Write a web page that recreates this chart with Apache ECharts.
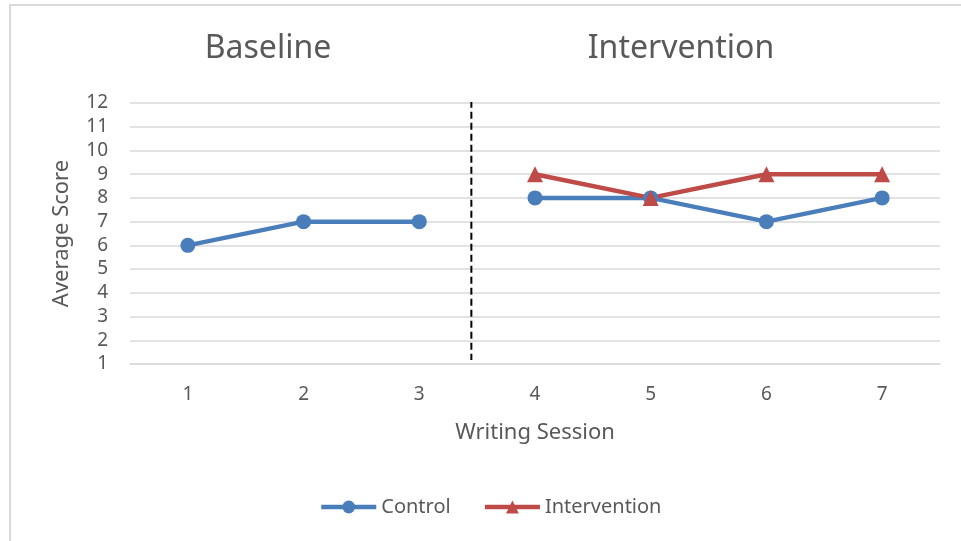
<!DOCTYPE html>
<html>
<head>
<meta charset="utf-8">
<script src="https://cdn.jsdelivr.net/npm/echarts@6/dist/echarts.min.js"></script>
<style>
html,body{margin:0;padding:0;background:#fff;}
#wrap{position:relative;width:961px;height:541px;overflow:hidden;}
#frame{position:absolute;left:9px;top:4px;width:1000px;height:600px;border-left:2px solid #d9d9d9;border-top:2px solid #d9d9d9;}
#chart{position:absolute;left:0;top:0;width:961px;height:541px;}
</style>
</head>
<body>
<div id="wrap"><div id="frame"></div><div id="chart"></div></div>
<script>
var sessions = ['1','2','3','4','5','6','7'];
var controlBaseline = [6, 7, 7, '-', '-', '-', '-'];
var controlIntervention = ['-', '-', '-', 8, 8, 7, 8];
var intervention = ['-', '-', '-', 9, 8, 9, 9];
var phaseDivider = [[3.45, 12.1], [3.45, 1.17]];
var phaseTitles = ['Baseline', 'Intervention'];

var blue = '#4A7EBB', red = '#BE4B48', txt = '#595959';
var font = 'Noto Sans';
var chart = echarts.init(document.getElementById('chart'), null, {renderer: 'canvas'});
chart.setOption({
  animation: false,
  textStyle: {fontFamily: font, color: txt},
  title: [
    {text: phaseTitles[0], left: 263, top: 28, textAlign: 'center', textStyle: {fontFamily: font, fontSize: 32, fontWeight: 'normal', color: txt}},
    {text: phaseTitles[1], left: 676, top: 28, textAlign: 'center', textStyle: {fontFamily: font, fontSize: 32, fontWeight: 'normal', color: txt}}
  ],
  legend: {
    data: [
      {name: 'Control', itemStyle: {color: blue}, lineStyle: {color: blue, width: 4.5}},
      {name: 'Intervention', itemStyle: {color: red}, lineStyle: {color: red, width: 4.5}}
    ],
    left: 314, top: 492,
    itemWidth: 55, itemHeight: 16, itemGap: 32,
    textStyle: {fontFamily: font, fontSize: 20, color: txt}
  },
  grid: {left: 130, right: 21, top: 103, bottom: 177, containLabel: false},
  xAxis: [{
    type: 'category', data: sessions, boundaryGap: true,
    name: 'Writing Session', nameLocation: 'middle', nameGap: 58,
    nameTextStyle: {fontFamily: font, fontSize: 22, color: txt},
    axisLine: {show: true, lineStyle: {color: '#d9d9d9', width: 1.5}},
    axisTick: {show: false},
    axisLabel: {fontFamily: font, fontSize: 19, color: txt, margin: 21}
  }, {
    type: 'value', min: 0.5, max: 7.5, show: false
  }],
  yAxis: {
    type: 'value', min: 1, max: 12, interval: 1,
    name: 'Average Score', nameLocation: 'middle', nameGap: 57,
    nameTextStyle: {fontFamily: font, fontSize: 22, color: txt},
    axisLine: {show: false}, axisTick: {show: false},
    axisLabel: {fontFamily: font, fontSize: 19, color: txt, margin: 22},
    splitLine: {lineStyle: {color: '#d9d9d9', width: 1.5}}
  },
  series: [
    {name: 'Control', type: 'line', data: controlBaseline, symbol: 'circle', symbolSize: 15,
      lineStyle: {color: blue, width: 4.5}, itemStyle: {color: blue}, connectNulls: false},
    {name: 'Control', type: 'line', data: controlIntervention, symbol: 'circle', symbolSize: 15,
      lineStyle: {color: blue, width: 4.5}, itemStyle: {color: blue}},
    {name: 'Intervention', type: 'line', data: intervention, symbol: 'triangle', symbolSize: 16,
      lineStyle: {color: red, width: 4.5}, itemStyle: {color: red}, z: 3},
    {name: 'divider', type: 'line', xAxisIndex: 1, data: phaseDivider, symbol: 'none',
      lineStyle: {color: '#000', width: 2, type: [7, 4]}, silent: true}
  ]
});
</script>
</body>
</html>
